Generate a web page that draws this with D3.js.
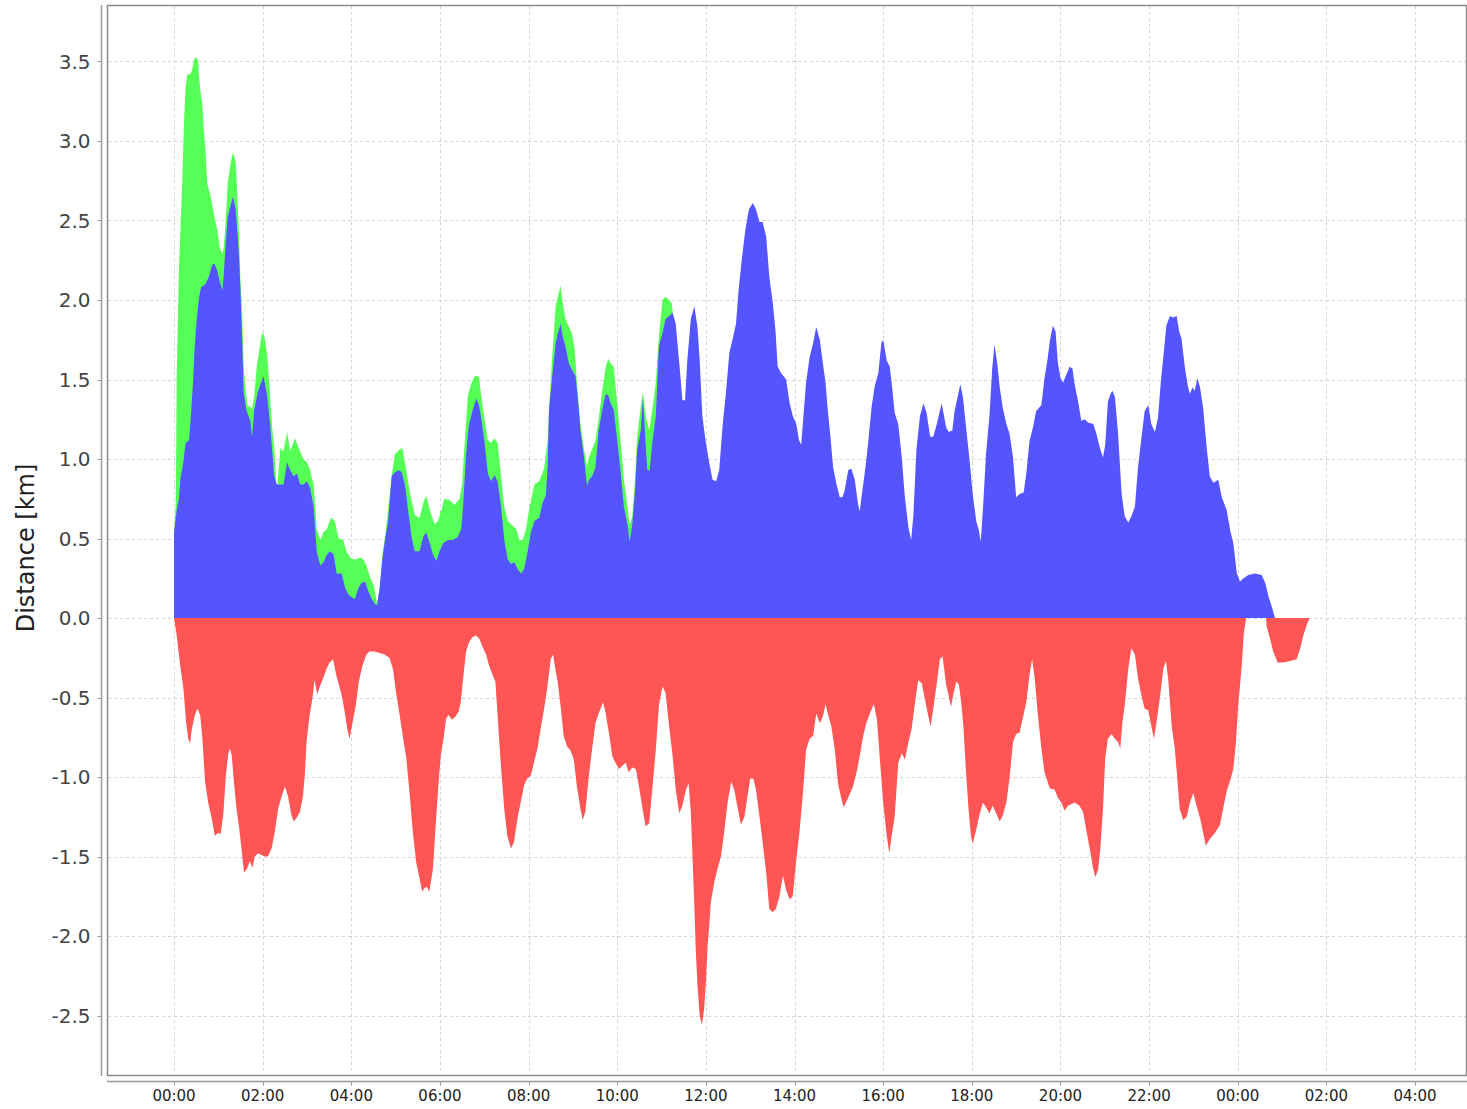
<!DOCTYPE html>
<html>
<head>
<meta charset="utf-8">
<script src="https://cdn.jsdelivr.net/npm/d3@7"></script>
<style>
  html, body { margin: 0; padding: 0; background: #fff; }
  svg { display: block; font-family: "DejaVu Sans", sans-serif; }
</style>
</head>
<body>
<div id="chart"></div>
<script>
// series as [hours since 00:00, km]
const greenSeries = [
  [0.00,0.54],[0.04,0.72],[0.06,1.52],[0.11,2.19],[0.19,2.78],[0.22,3.08],[0.26,3.34],[0.30,3.42],
  [0.37,3.42],[0.41,3.45],[0.45,3.51],[0.49,3.53],[0.54,3.50],[0.58,3.35],[0.64,3.22],[0.67,3.08],
  [0.71,2.94],[0.75,2.73],[0.82,2.66],[0.90,2.54],[0.97,2.45],[1.03,2.33],[1.09,2.29],[1.12,2.33],
  [1.16,2.47],[1.21,2.73],[1.27,2.85],[1.33,2.93],[1.39,2.87],[1.42,2.71],[1.46,2.45],[1.50,2.12],
  [1.54,1.89],[1.57,1.59],[1.61,1.45],[1.66,1.33],[1.72,1.33],[1.76,1.31],[1.81,1.40],[1.87,1.59],
  [1.93,1.70],[1.99,1.80],[2.04,1.77],[2.10,1.66],[2.15,1.47],[2.21,1.21],[2.26,1.07],[2.32,0.79],
  [2.40,1.07],[2.47,1.05],[2.55,1.17],[2.62,1.05],[2.73,1.13],[2.81,1.07],[2.92,1.00],[3.00,0.98],
  [3.07,0.93],[3.15,0.84],[3.22,0.56],[3.30,0.49],[3.37,0.54],[3.45,0.56],[3.54,0.63],[3.63,0.61],
  [3.71,0.50],[3.82,0.49],[3.90,0.41],[4.01,0.37],[4.12,0.37],[4.19,0.38],[4.27,0.37],[4.34,0.33],
  [4.42,0.26],[4.51,0.20],[4.58,0.09],[4.64,0.19],[4.70,0.40],[4.76,0.51],[4.83,0.68],[4.91,0.89],
  [4.98,1.03],[5.09,1.06],[5.15,1.07],[5.24,0.93],[5.32,0.79],[5.43,0.65],[5.54,0.63],[5.62,0.72],
  [5.69,0.77],[5.77,0.68],[5.88,0.59],[5.96,0.61],[6.03,0.68],[6.10,0.75],[6.22,0.74],[6.33,0.71],
  [6.44,0.75],[6.50,0.84],[6.55,1.07],[6.63,1.40],[6.70,1.47],[6.78,1.52],[6.88,1.52],[6.93,1.40],
  [7.00,1.26],[7.08,1.12],[7.15,1.10],[7.23,1.13],[7.30,1.10],[7.38,0.89],[7.45,0.70],[7.53,0.61],
  [7.64,0.58],[7.72,0.56],[7.79,0.49],[7.87,0.49],[7.94,0.56],[8.01,0.68],[8.13,0.84],[8.24,0.86],
  [8.35,0.94],[8.43,1.12],[8.46,1.31],[8.54,1.68],[8.61,1.96],[8.64,2.00],[8.72,2.09],[8.77,1.98],
  [8.83,1.88],[8.91,1.83],[8.98,1.79],[9.04,1.69],[9.09,1.48],[9.17,1.22],[9.25,1.06],[9.32,0.95],
  [9.36,1.01],[9.43,1.06],[9.51,1.12],[9.58,1.25],[9.66,1.43],[9.74,1.58],[9.80,1.63],[9.85,1.60],
  [9.92,1.58],[10.00,1.35],[10.08,1.10],[10.15,0.87],[10.23,0.70],[10.28,0.59],[10.34,0.64],[10.40,0.87],
  [10.45,1.14],[10.53,1.33],[10.58,1.42],[10.64,1.27],[10.72,1.18],[10.79,1.31],[10.87,1.48],[10.94,1.77],
  [11.02,2.00],[11.09,2.02],[11.17,2.00],[11.23,1.98],[11.28,1.85]
];

const blueSeries = [
  [0.00,0.54],[0.06,0.68],[0.11,0.75],[0.15,0.89],[0.21,0.98],[0.26,1.10],[0.34,1.12],[0.39,1.31],
  [0.43,1.49],[0.46,1.68],[0.51,1.87],[0.56,2.01],[0.61,2.08],[0.71,2.10],[0.79,2.15],[0.86,2.22],
  [0.91,2.23],[0.97,2.19],[1.03,2.12],[1.09,2.06],[1.12,2.15],[1.16,2.33],[1.21,2.52],[1.27,2.59],
  [1.33,2.65],[1.39,2.57],[1.46,2.31],[1.50,2.05],[1.54,1.73],[1.57,1.42],[1.63,1.31],[1.72,1.24],
  [1.76,1.14],[1.81,1.31],[1.89,1.42],[1.95,1.47],[2.02,1.52],[2.10,1.40],[2.17,1.21],[2.21,1.07],
  [2.26,0.89],[2.32,0.84],[2.40,0.84],[2.47,0.84],[2.55,0.98],[2.62,0.93],[2.70,0.89],[2.77,0.91],
  [2.85,0.84],[2.92,0.84],[3.00,0.86],[3.07,0.82],[3.15,0.70],[3.22,0.42],[3.30,0.33],[3.37,0.35],
  [3.45,0.40],[3.52,0.42],[3.60,0.40],[3.67,0.28],[3.78,0.28],[3.86,0.19],[3.93,0.15],[4.01,0.13],
  [4.08,0.12],[4.16,0.19],[4.23,0.22],[4.31,0.23],[4.38,0.17],[4.46,0.12],[4.53,0.09],[4.58,0.08],
  [4.64,0.19],[4.70,0.37],[4.76,0.49],[4.83,0.61],[4.91,0.89],[4.96,0.91],[5.06,0.93],[5.13,0.92],
  [5.21,0.84],[5.28,0.68],[5.36,0.51],[5.43,0.42],[5.54,0.42],[5.62,0.51],[5.69,0.54],[5.77,0.47],
  [5.84,0.40],[5.92,0.36],[5.99,0.42],[6.07,0.47],[6.18,0.49],[6.29,0.49],[6.40,0.51],[6.48,0.56],
  [6.52,0.70],[6.59,1.03],[6.65,1.21],[6.74,1.31],[6.82,1.38],[6.88,1.34],[6.93,1.26],[7.00,1.12],
  [7.08,0.91],[7.15,0.86],[7.23,0.90],[7.30,0.86],[7.38,0.70],[7.45,0.49],[7.53,0.37],[7.60,0.34],
  [7.68,0.35],[7.75,0.31],[7.83,0.28],[7.90,0.31],[7.98,0.42],[8.05,0.54],[8.13,0.61],[8.24,0.63],
  [8.31,0.72],[8.39,0.77],[8.43,0.96],[8.46,1.31],[8.54,1.54],[8.61,1.73],[8.66,1.79],[8.72,1.85],
  [8.77,1.77],[8.83,1.71],[8.91,1.60],[8.98,1.56],[9.06,1.52],[9.12,1.35],[9.17,1.18],[9.25,1.01],
  [9.32,0.83],[9.36,0.87],[9.43,0.89],[9.51,0.95],[9.58,1.18],[9.66,1.31],[9.74,1.41],[9.80,1.40],
  [9.85,1.35],[9.92,1.31],[10.00,1.12],[10.08,0.91],[10.15,0.70],[10.23,0.59],[10.28,0.48],[10.34,0.59],
  [10.40,0.80],[10.45,1.06],[10.53,1.18],[10.58,1.39],[10.63,1.14],[10.68,0.93],[10.73,0.93],[10.79,1.10],
  [10.87,1.27],[10.94,1.71],[11.02,1.79],[11.09,1.88],[11.17,1.90],[11.25,1.92],[11.32,1.85],[11.40,1.60],
  [11.47,1.37],[11.53,1.37],[11.58,1.62],[11.66,1.88],[11.74,1.96],[11.81,1.83],[11.86,1.62],[11.92,1.27],
  [12.00,1.10],[12.08,0.97],[12.15,0.87],[12.23,0.86],[12.30,0.93],[12.38,1.22],[12.45,1.41],[12.53,1.67],
  [12.60,1.75],[12.68,1.85],[12.74,2.07],[12.82,2.28],[12.89,2.44],[12.97,2.57],[13.06,2.61],[13.13,2.57],
  [13.21,2.49],[13.28,2.49],[13.36,2.40],[13.43,2.15],[13.51,1.98],[13.57,1.81],[13.62,1.58],[13.70,1.54],
  [13.81,1.50],[13.89,1.35],[13.96,1.27],[14.04,1.22],[14.10,1.12],[14.15,1.09],[14.20,1.27],[14.26,1.48],
  [14.34,1.64],[14.42,1.73],[14.49,1.83],[14.57,1.75],[14.64,1.60],[14.70,1.48],[14.75,1.31],[14.81,1.14],
  [14.87,0.95],[14.94,0.85],[15.02,0.76],[15.08,0.76],[15.13,0.80],[15.21,0.93],[15.28,0.94],[15.36,0.87],
  [15.43,0.72],[15.47,0.67],[15.53,0.80],[15.61,0.97],[15.66,1.10],[15.74,1.33],[15.81,1.46],[15.89,1.54],
  [15.96,1.73],[16.00,1.75],[16.08,1.62],[16.15,1.58],[16.21,1.43],[16.26,1.29],[16.34,1.22],[16.42,1.01],
  [16.49,0.76],[16.57,0.57],[16.63,0.49],[16.68,0.64],[16.75,1.06],[16.83,1.27],[16.91,1.35],[16.98,1.29],
  [17.06,1.14],[17.13,1.14],[17.21,1.22],[17.32,1.35],[17.42,1.20],[17.48,1.17],[17.56,1.18],[17.61,1.30],
  [17.68,1.39],[17.74,1.47],[17.80,1.39],[17.87,1.20],[17.95,0.99],[18.02,0.78],[18.10,0.61],[18.16,0.55],
  [18.20,0.48],[18.25,0.68],[18.32,1.03],[18.40,1.28],[18.46,1.57],[18.51,1.72],[18.57,1.61],[18.63,1.45],
  [18.70,1.32],[18.78,1.22],[18.85,1.16],[18.93,1.01],[19.00,0.76],[19.08,0.78],[19.17,0.79],[19.23,0.91],
  [19.30,1.11],[19.38,1.20],[19.45,1.30],[19.57,1.34],[19.64,1.51],[19.70,1.61],[19.76,1.74],[19.83,1.84],
  [19.89,1.80],[19.94,1.61],[20.00,1.51],[20.06,1.48],[20.13,1.53],[20.21,1.58],[20.27,1.57],[20.32,1.47],
  [20.40,1.36],[20.47,1.24],[20.55,1.25],[20.62,1.23],[20.74,1.22],[20.81,1.16],[20.89,1.07],[20.96,1.01],
  [21.01,1.09],[21.07,1.36],[21.13,1.41],[21.17,1.43],[21.23,1.39],[21.30,1.16],[21.38,0.78],[21.45,0.64],
  [21.53,0.60],[21.60,0.64],[21.68,0.70],[21.75,0.95],[21.83,1.14],[21.90,1.30],[21.98,1.34],[22.05,1.22],
  [22.13,1.17],[22.20,1.26],[22.26,1.47],[22.32,1.64],[22.39,1.84],[22.47,1.90],[22.54,1.89],[22.62,1.90],
  [22.68,1.80],[22.73,1.76],[22.81,1.57],[22.88,1.45],[22.92,1.41],[22.98,1.45],[23.03,1.43],[23.09,1.51],
  [23.15,1.45],[23.22,1.32],[23.30,1.07],[23.37,0.89],[23.45,0.85],[23.56,0.87],[23.64,0.76],[23.75,0.68],
  [23.83,0.55],[23.90,0.47],[23.98,0.28],[24.05,0.23],[24.13,0.25],[24.24,0.27],[24.39,0.28],[24.54,0.27],
  [24.62,0.22],[24.69,0.14],[24.77,0.07],[24.84,0.00]
];

const redSeries = [
  [0.00,0.00],[0.06,-0.11],[0.14,-0.30],[0.21,-0.44],[0.27,-0.65],[0.32,-0.76],[0.36,-0.79],[0.40,-0.70],
  [0.47,-0.61],[0.53,-0.57],[0.59,-0.61],[0.64,-0.76],[0.70,-1.03],[0.77,-1.16],[0.85,-1.26],[0.92,-1.37],
  [1.00,-1.35],[1.05,-1.36],[1.11,-1.24],[1.17,-0.99],[1.22,-0.86],[1.26,-0.82],[1.30,-0.86],[1.35,-1.03],
  [1.41,-1.20],[1.47,-1.32],[1.52,-1.45],[1.58,-1.60],[1.64,-1.58],[1.71,-1.53],[1.77,-1.57],[1.82,-1.50],
  [1.90,-1.48],[1.97,-1.49],[2.05,-1.50],[2.12,-1.50],[2.20,-1.45],[2.27,-1.35],[2.35,-1.20],[2.42,-1.13],
  [2.50,-1.06],[2.57,-1.12],[2.65,-1.24],[2.70,-1.28],[2.76,-1.26],[2.84,-1.22],[2.91,-1.12],[2.95,-0.99],
  [2.99,-0.78],[3.06,-0.61],[3.12,-0.51],[3.17,-0.39],[3.23,-0.48],[3.29,-0.43],[3.36,-0.38],[3.44,-0.32],
  [3.51,-0.28],[3.59,-0.26],[3.66,-0.36],[3.74,-0.44],[3.80,-0.51],[3.85,-0.59],[3.91,-0.70],[3.96,-0.76],
  [4.02,-0.67],[4.10,-0.55],[4.17,-0.40],[4.25,-0.30],[4.34,-0.23],[4.41,-0.21],[4.52,-0.21],[4.64,-0.22],
  [4.75,-0.23],[4.86,-0.25],[4.94,-0.32],[5.01,-0.47],[5.09,-0.61],[5.16,-0.74],[5.24,-0.88],[5.31,-1.09],
  [5.39,-1.35],[5.46,-1.53],[5.54,-1.64],[5.60,-1.72],[5.65,-1.70],[5.70,-1.69],[5.76,-1.72],[5.84,-1.58],
  [5.91,-1.28],[5.97,-1.03],[6.02,-0.86],[6.08,-0.76],[6.14,-0.63],[6.20,-0.61],[6.27,-0.64],[6.35,-0.62],
  [6.42,-0.59],[6.47,-0.53],[6.53,-0.36],[6.59,-0.21],[6.66,-0.15],[6.74,-0.12],[6.81,-0.11],[6.89,-0.13],
  [6.96,-0.18],[7.04,-0.23],[7.11,-0.30],[7.19,-0.36],[7.25,-0.40],[7.30,-0.61],[7.37,-0.91],[7.45,-1.20],
  [7.52,-1.37],[7.60,-1.45],[7.67,-1.41],[7.75,-1.26],[7.82,-1.16],[7.90,-1.05],[7.97,-1.01],[8.05,-0.99],
  [8.12,-0.91],[8.20,-0.82],[8.27,-0.70],[8.35,-0.57],[8.42,-0.44],[8.50,-0.26],[8.55,-0.23],[8.61,-0.33],
  [8.66,-0.41],[8.72,-0.55],[8.79,-0.74],[8.87,-0.81],[8.94,-0.83],[9.02,-0.89],[9.09,-1.06],[9.17,-1.20],
  [9.22,-1.27],[9.28,-1.22],[9.36,-0.99],[9.43,-0.83],[9.51,-0.66],[9.58,-0.60],[9.68,-0.53],[9.74,-0.60],
  [9.81,-0.72],[9.89,-0.87],[9.96,-0.91],[10.04,-0.95],[10.11,-0.93],[10.19,-0.91],[10.26,-0.97],[10.34,-0.94],
  [10.42,-0.95],[10.49,-1.06],[10.57,-1.20],[10.64,-1.31],[10.72,-1.29],[10.79,-1.08],[10.87,-0.83],[10.94,-0.55],
  [11.02,-0.43],[11.09,-0.47],[11.17,-0.68],[11.25,-0.87],[11.32,-1.08],[11.40,-1.23],[11.47,-1.18],[11.55,-1.08],
  [11.61,-1.04],[11.66,-1.22],[11.70,-1.52],[11.74,-1.81],[11.77,-2.08],[11.81,-2.31],[11.86,-2.50],[11.91,-2.56],
  [11.96,-2.46],[12.00,-2.29],[12.04,-2.06],[12.08,-1.92],[12.11,-1.79],[12.19,-1.66],[12.26,-1.58],[12.34,-1.50],
  [12.42,-1.33],[12.49,-1.16],[12.57,-1.03],[12.64,-1.08],[12.72,-1.20],[12.79,-1.30],[12.87,-1.25],[12.94,-1.12],
  [13.00,-1.01],[13.07,-1.01],[13.13,-1.08],[13.21,-1.25],[13.28,-1.41],[13.36,-1.60],[13.43,-1.83],[13.51,-1.85],
  [13.58,-1.83],[13.66,-1.75],[13.74,-1.62],[13.81,-1.71],[13.89,-1.77],[13.96,-1.75],[14.04,-1.52],[14.11,-1.35],
  [14.19,-1.10],[14.26,-0.83],[14.34,-0.76],[14.42,-0.74],[14.49,-0.60],[14.57,-0.66],[14.64,-0.62],[14.70,-0.54],
  [14.75,-0.60],[14.83,-0.68],[14.91,-0.83],[14.98,-1.04],[15.06,-1.14],[15.11,-1.19],[15.21,-1.13],[15.32,-1.06],
  [15.40,-0.97],[15.47,-0.87],[15.55,-0.74],[15.62,-0.66],[15.70,-0.60],[15.79,-0.54],[15.86,-0.64],[15.92,-0.87],
  [16.00,-1.16],[16.08,-1.37],[16.14,-1.48],[16.19,-1.37],[16.26,-1.25],[16.34,-0.91],[16.42,-0.85],[16.49,-0.89],
  [16.57,-0.78],[16.64,-0.70],[16.72,-0.53],[16.79,-0.39],[16.87,-0.41],[16.94,-0.51],[17.02,-0.62],[17.07,-0.68],
  [17.13,-0.57],[17.21,-0.41],[17.28,-0.26],[17.34,-0.24],[17.42,-0.42],[17.48,-0.49],[17.53,-0.56],[17.59,-0.47],
  [17.65,-0.40],[17.71,-0.42],[17.76,-0.53],[17.81,-0.68],[17.87,-0.97],[17.93,-1.22],[17.98,-1.37],[18.02,-1.42],
  [18.10,-1.33],[18.17,-1.24],[18.25,-1.16],[18.32,-1.19],[18.40,-1.23],[18.47,-1.18],[18.55,-1.23],[18.63,-1.28],
  [18.70,-1.24],[18.78,-1.16],[18.85,-1.01],[18.93,-0.78],[19.00,-0.73],[19.08,-0.72],[19.15,-0.63],[19.23,-0.53],
  [19.30,-0.36],[19.36,-0.26],[19.42,-0.38],[19.49,-0.61],[19.57,-0.82],[19.64,-0.97],[19.76,-1.07],[19.87,-1.08],
  [19.94,-1.13],[20.02,-1.16],[20.09,-1.21],[20.17,-1.18],[20.25,-1.17],[20.32,-1.16],[20.43,-1.18],[20.51,-1.22],
  [20.58,-1.33],[20.66,-1.45],[20.74,-1.58],[20.79,-1.63],[20.85,-1.58],[20.90,-1.45],[20.96,-1.20],[21.01,-0.88],
  [21.07,-0.76],[21.15,-0.73],[21.23,-0.76],[21.30,-0.78],[21.35,-0.82],[21.40,-0.65],[21.45,-0.55],[21.53,-0.32],
  [21.60,-0.19],[21.68,-0.23],[21.75,-0.38],[21.83,-0.49],[21.90,-0.57],[21.98,-0.58],[22.05,-0.68],[22.11,-0.76],
  [22.17,-0.65],[22.24,-0.51],[22.32,-0.32],[22.38,-0.27],[22.43,-0.38],[22.51,-0.68],[22.58,-0.82],[22.63,-0.99],
  [22.69,-1.20],[22.77,-1.27],[22.85,-1.25],[22.92,-1.16],[23.00,-1.10],[23.07,-1.18],[23.15,-1.26],[23.22,-1.35],
  [23.28,-1.43],[23.37,-1.39],[23.49,-1.35],[23.60,-1.30],[23.67,-1.20],[23.75,-1.09],[23.83,-1.02],[23.90,-0.95],
  [23.96,-0.78],[24.01,-0.55],[24.09,-0.30],[24.14,-0.09],[24.19,0.00],[24.64,0.00],[24.65,-0.05],[24.73,-0.13],
  [24.80,-0.21],[24.90,-0.28],[25.03,-0.28],[25.18,-0.27],[25.33,-0.26],[25.41,-0.19],[25.48,-0.11],[25.56,-0.04],
  [25.62,0.00]
];

const yTicks = [-2.5, -2.0, -1.5, -1.0, -0.5, 0.0, 0.5, 1.0, 1.5, 2.0, 2.5, 3.0, 3.5];
const yLabel = "Distance [km]";

const W = 1467, H = 1109;
const plot = {left: 108, right: 1466, top: 6, bottom: 1075};

const base = new Date(2020, 0, 1, 0, 0);
const toDate = h => new Date(base.getTime() + h * 3600000);

const svg = d3.select("#chart").append("svg")
    .attr("width", W)
    .attr("height", H);

const x = d3.scaleTime()
    .domain([toDate(-1.49), toDate(29.15)])
    .range([plot.left, plot.right]);
const y = d3.scaleLinear()
    .domain([-2.874, 3.849])
    .range([plot.bottom, plot.top]);

const xTicks = x.ticks(d3.timeHour.every(2));

// gridlines
const grid = svg.append("g")
    .attr("stroke", "#d4d4d4")
    .attr("stroke-width", 1)
    .attr("stroke-dasharray", "3,3");
grid.selectAll(".vg").data(xTicks).join("line")
    .attr("x1", d => Math.round(x(d)) + 0.5).attr("x2", d => Math.round(x(d)) + 0.5)
    .attr("y1", plot.top).attr("y2", plot.bottom);
grid.selectAll(".hg").data(yTicks).join("line")
    .attr("x1", plot.left).attr("x2", plot.right)
    .attr("y1", d => Math.round(y(d)) + 0.5).attr("y2", d => Math.round(y(d)) + 0.5);

// areas
const area = d3.area()
    .x(d => x(toDate(d[0])))
    .y0(y(0))
    .y1(d => y(d[1]));

svg.append("path").datum(greenSeries).attr("fill", "#55ff55").attr("d", area);
svg.append("path").datum(blueSeries).attr("fill", "#5555ff").attr("d", area);
svg.append("path").datum(redSeries).attr("fill", "#ff5555").attr("d", area);

// plot outline
svg.append("rect")
    .attr("x", plot.left - 0.5).attr("y", plot.top - 0.5)
    .attr("width", plot.right - plot.left + 1).attr("height", plot.bottom - plot.top + 1)
    .attr("fill", "none")
    .attr("stroke", "#8c8c8c")
    .attr("stroke-width", 1.5);

// y axis
const yAxis = svg.append("g").attr("transform", "translate(101.5,0)");
yAxis.append("line")
    .attr("y1", plot.top - 1).attr("y2", plot.bottom + 1)
    .attr("stroke", "#9a9a9a").attr("stroke-width", 1.5);
yAxis.selectAll(".tk").data(yTicks).join("line")
    .attr("x1", -4).attr("x2", 0)
    .attr("y1", d => Math.round(y(d)) + 0.5).attr("y2", d => Math.round(y(d)) + 0.5)
    .attr("stroke", "#9a9a9a");
yAxis.selectAll(".lb").data(yTicks).join("text")
    .attr("x", -11)
    .attr("y", d => y(d))
    .attr("dy", "0.36em")
    .attr("text-anchor", "end")
    .attr("font-size", 20)
    .attr("fill", "#444")
    .text(d => d3.format(".1f")(d).replace("−", "-"));

svg.append("text")
    .attr("transform", `translate(34,548) rotate(-90)`)
    .attr("text-anchor", "middle")
    .attr("font-size", 24)
    .attr("fill", "#222")
    .text(yLabel);

// x axis
const xAxis = svg.append("g").attr("transform", "translate(0,1081.5)");
xAxis.append("line")
    .attr("x1", plot.left - 1).attr("x2", W)
    .attr("stroke", "#9a9a9a").attr("stroke-width", 1.5);
xAxis.selectAll(".tk").data(xTicks).join("line")
    .attr("x1", d => Math.round(x(d)) + 0.5).attr("x2", d => Math.round(x(d)) + 0.5)
    .attr("y1", 0).attr("y2", 4)
    .attr("stroke", "#9a9a9a");
xAxis.selectAll(".lb").data(xTicks).join("text")
    .attr("x", d => x(d))
    .attr("y", 19.5)
    .attr("text-anchor", "middle")
    .attr("font-size", 15)
    .attr("fill", "#222")
    .text(d => d3.timeFormat("%H:%M")(d));
</script>
</body>
</html>
